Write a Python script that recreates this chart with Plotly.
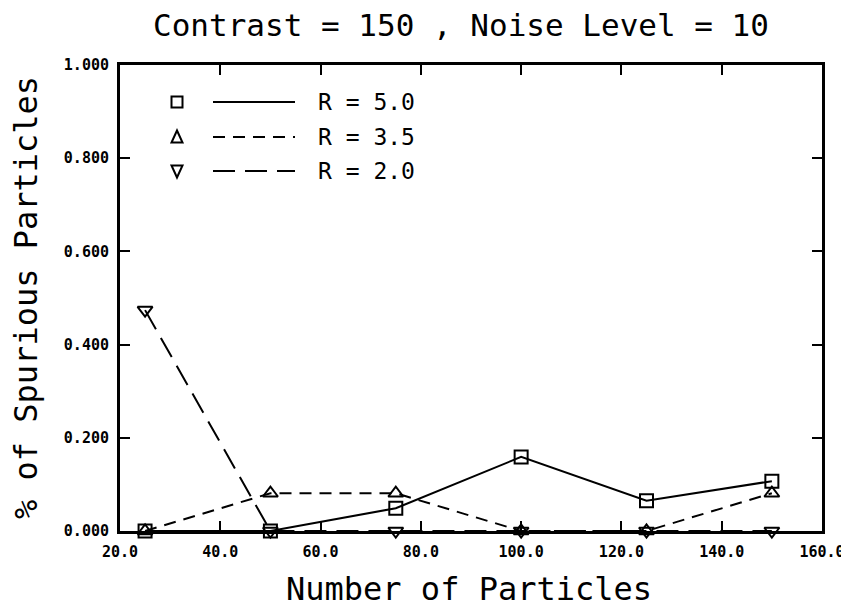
import plotly.graph_objects as go

# Data
x_particles = [25, 50, 75, 100, 125, 150]
r50 = [0.0, 0.0, 0.049, 0.159, 0.065, 0.107]
r35 = [0.0, 0.081, 0.081, 0.0, 0.0, 0.081]
r20 = [0.474, 0.0, 0.0, 0.0, 0.0, 0.0]
series_names = ["R = 5.0", "R = 3.5", "R = 2.0"]
x_ticks = [20, 40, 60, 80, 100, 120, 140, 160]
y_ticks = [0.0, 0.2, 0.4, 0.6, 0.8, 1.0]

font_family = "DejaVu Sans Mono"
styles = [
    dict(symbol="square-open", dash="solid"),
    dict(symbol="triangle-up-open", dash="12px,8px"),
    dict(symbol="triangle-down-open", dash="22px,10px"),
]

fig = go.Figure()
for ys, name, st in zip([r50, r35, r20], series_names, styles):
    fig.add_trace(go.Scatter(
        x=x_particles, y=ys, name=name, mode="lines+markers",
        line=dict(color="black", width=2, dash=st["dash"]),
        marker=dict(symbol=st["symbol"], size=13, color="black",
                    line=dict(width=2, color="black")),
        showlegend=False, cliponaxis=False,
    ))

# Figure geometry (page has an 8px body margin)
FW, FH = 841, 601
ML, MR, MT, MB = 112, 27, 57, 78
PW, PH = float(FW - ML - MR), float(FH - MT - MB)

def px_x(page_x):
    return (page_x - 8 - ML) / PW

def px_y(page_y):
    return (FH - MB - (page_y - 8)) / PH

# Manual legend (layout decoration in paper coordinates)
rows_page_y = [102, 137, 171]
mx = px_x(177)
for i, (py, st, name) in enumerate(zip(rows_page_y, styles, series_names)):
    yy = px_y(py)
    fig.add_shape(type="line", xref="paper", yref="paper",
                  x0=px_x(213), x1=px_x(295), y0=yy, y1=yy,
                  line=dict(color="black", width=2, dash=st["dash"]))
    hx, hy = 5.5 / PW, 5.5 / PH
    if i == 0:
        path = f"M{mx-hx},{yy-hy} L{mx+hx},{yy-hy} L{mx+hx},{yy+hy} L{mx-hx},{yy+hy} Z"
    elif i == 1:
        path = f"M{mx-hx},{yy-hy} L{mx+hx},{yy-hy} L{mx},{yy+hy+1/PH} Z"
    else:
        path = f"M{mx-hx},{yy+hy} L{mx+hx},{yy+hy} L{mx},{yy-hy-1/PH} Z"
    fig.add_shape(type="path", xref="paper", yref="paper", path=path,
                  line=dict(color="black", width=2))
    fig.add_annotation(xref="paper", yref="paper", x=px_x(316), y=yy,
                       text=name, showarrow=False, xanchor="left", yanchor="middle",
                       font=dict(family=font_family, size=23, color="black"))

# Axis titles
fig.add_annotation(xref="paper", yref="paper", x=px_x(469), y=px_y(589),
                   text="Number of Particles", showarrow=False,
                   xanchor="center", yanchor="middle",
                   font=dict(family=font_family, size=32, color="black"))
fig.add_annotation(xref="paper", yref="paper", x=px_x(26), y=px_y(298),
                   text="% of Spurious Particles", showarrow=False, textangle=-90,
                   xanchor="center", yanchor="middle",
                   font=dict(family=font_family, size=32, color="black"))

axis_common = dict(
    showline=True, linecolor="black", linewidth=3, mirror="allticks",
    ticks="inside", ticklen=10, tickwidth=2, tickcolor="black",
    showgrid=False, zeroline=False, automargin=False,
    tickfont=dict(family=font_family, size=15, color="black", weight="bold"),
)

fig.update_layout(
    width=FW, height=FH,
    margin=dict(l=ML, r=MR, t=MT, b=MB),
    paper_bgcolor="white", plot_bgcolor="white",
    title=dict(text="Contrast = 150 , Noise Level = 10", x=(461 - 8) / FW,
               xanchor="center", y=1 - (25 - 8) / FH, yanchor="middle",
               font=dict(family=font_family, size=31, color="black")),
    xaxis=dict(range=[20, 160], tickvals=x_ticks,
               ticktext=[f"{v:.1f}" for v in x_ticks], ticklabelstandoff=5,
               **axis_common),
    yaxis=dict(range=[0, 1], tickvals=y_ticks,
               ticktext=[f"{v:.3f}" for v in y_ticks], ticklabelstandoff=5,
               **axis_common),
)

fig.write_html("out.html")
